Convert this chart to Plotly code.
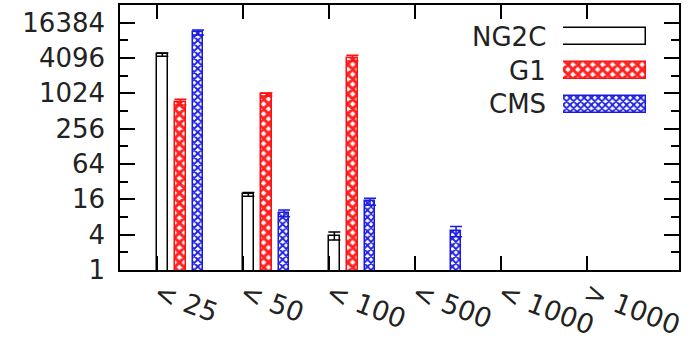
import plotly.graph_objects as go

categories = ["< 25", "< 50", "< 100", "< 500", "< 1000", "> 1000"]
series_names = ["NG2C", "G1", "CMS"]
ng2c = [4700, 19.5, 3.85, None, None, None]
ng2c_err = [300, 1.5, 0.6, 0, 0, 0]
g1 = [730, 980, 4100, None, None, None]
g1_err = [80, 60, 450, 0, 0, 0]
cms = [11150, 9.3, 14.7, 4.6, None, None]
cms_err = [1100, 1.2, 2.0, 0.9, 0, 0]

y_tickvals = [1, 4, 16, 64, 256, 1024, 4096, 16384]
y_ticktext = ["1", "4", "16", "64", "256", "1024", "4096", "16384"]
y_minorvals = [2, 8, 32, 128, 512, 2048, 8192]

FONT = "DejaVu Sans"
FS = 26
W, H = 700, 345
ML, MR, MT, MB = 120, 21, 5, 75
PW, PH = W - ML - MR, H - MT - MB

styles = [
    dict(line="black", pattern=dict(shape="", bgcolor="white")),
    dict(line="#ff1010", pattern=dict(shape="x", fgcolor="#ff2020", bgcolor="white", size=7, solidity=0.68, fillmode="replace")),
    dict(line="#1a1ae6", pattern=dict(shape="x", fgcolor="#2020e0", bgcolor="white", size=5, solidity=0.6, fillmode="replace")),
]
offsets = [0.0, 0.21, 0.415]
width = 0.125
data = [(ng2c, ng2c_err), (g1, g1_err), (cms, cms_err)]

fig = go.Figure()
for name, (vals, errs), st, off in zip(series_names, data, styles, offsets):
    fig.add_trace(go.Bar(
        x=categories, y=vals, name=name, offset=off, width=width,
        marker=dict(color="white", line=dict(color=st["line"], width=1.5), pattern=st["pattern"]),
        error_y=dict(type="data", array=errs, visible=True, color=st["line"], thickness=1.5, width=6),
        showlegend=False,
    ))

# legend keys (gnuplot style: text on left, box on right)
leg_y_top = 20
leg_y_bot = 121
for i, (name, st) in enumerate(zip(series_names, styles)):
    fig.add_trace(go.Bar(
        x=[1], y=[i], base=[0], orientation="h", width=0.5,
        marker=dict(color="white", line=dict(color=st["line"], width=1.5), pattern=st["pattern"]),
        xaxis="x3", yaxis="y3", showlegend=False, hoverinfo="skip",
    ))
    fig.add_annotation(text=name, xref="paper", yref="y3", x=(548 - ML) / PW, y=i,
                       xanchor="right", yanchor="middle", showarrow=False,
                       font=dict(family=FONT, size=FS, color="#222"))

axis_common = dict(showline=True, linecolor="black", linewidth=1.5, mirror="ticks", automargin=False,
                   ticks="inside", tickcolor="black", tickwidth=1.5, showgrid=False, zeroline=False)

fig.update_layout(
    width=W, height=H, margin=dict(l=ML, r=MR, t=MT, b=MB),
    paper_bgcolor="white", plot_bgcolor="white",
    barmode="overlay", bargap=0,
    font=dict(family=FONT, size=FS, color="#222"),
    xaxis=dict(**axis_common, type="category", range=[-0.43, 6.07], ticklen=14,
               tickangle=21, ticklabelstandoff=-4,
               tickfont=dict(family=FONT, size=27, color="#222")),
    yaxis=dict(**axis_common, type="log", range=[0, 15 * 0.30103], ticklen=15,
               tickvals=y_tickvals, ticktext=y_ticktext, ticklabelstandoff=8,
               tickfont=dict(family=FONT, size=FS, color="#222"),
               minor=dict(ticks="inside", tickvals=y_minorvals, ticklen=8, tickcolor="black", tickwidth=1.5)),
    xaxis3=dict(domain=[(563 - ML) / PW, (646 - ML) / PW], range=[0, 1], visible=False, anchor="y3", fixedrange=True),
    yaxis3=dict(domain=[(H - MB - leg_y_bot) / PH, (H - MB - leg_y_top) / PH], range=[2.5, -0.5],
                visible=False, anchor="x3", fixedrange=True),
)

fig.write_html("out.html", config={"displayModeBar": False},
               post_script="document.body.style.margin='0';document.body.style.overflow='hidden';")
